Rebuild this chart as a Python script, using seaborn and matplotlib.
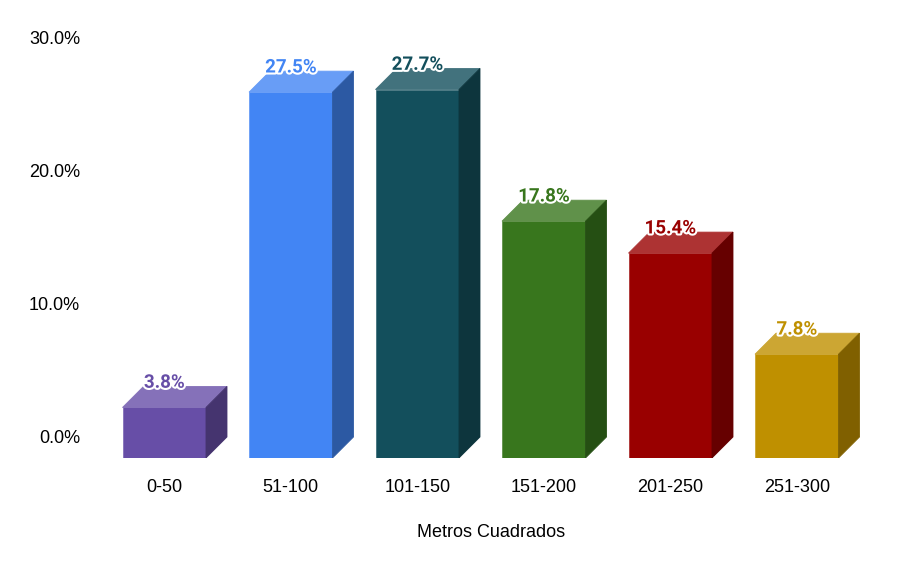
import matplotlib
matplotlib.use("Agg")
import matplotlib.pyplot as plt
import matplotlib.patheffects as pe
from matplotlib.patches import Polygon
import seaborn as sns

# data
categories = ["0-50", "51-100", "101-150", "151-200", "201-250", "251-300"]
values = [3.8, 27.5, 27.7, 17.8, 15.4, 7.8]
tick_values = [0, 10, 20, 30]
tick_labels = ["0.0%", "10.0%", "20.0%", "30.0%"]

front_colors = ["#674EA7", "#4285F4", "#134F5C", "#38761D", "#990000", "#BF9000"]
top_colors = ["#8571B9", "#689DF6", "#42727D", "#60914A", "#AD3333", "#CCA633"]
side_colors = ["#45346F", "#2C59A3", "#0D353D", "#254F13", "#660000", "#806000"]

sns.set_theme(style="white")
plt.rcParams["font.family"] = ["Liberation Sans", "DejaVu Sans"]

fig = plt.figure(figsize=(9.21, 5.69), dpi=100)
ax = fig.add_axes([101 / 921, 1 - 458 / 569, 759 / 921, 439 / 569])

sns.barplot(x=categories, y=values, hue=categories, palette=front_colors,
            legend=False, width=0.66, saturation=1, ax=ax)

# 3D depth in data units (about 21 px each way)
dx = 0.166
dy = 1.58

for i, p in enumerate(ax.patches[:len(values)]):
    x0 = p.get_x()
    w = p.get_width()
    h = p.get_height()
    x1 = x0 + w
    p.set_edgecolor(top_colors[i])
    p.set_linewidth(0.6)
    top = Polygon([(x0, h), (x1, h), (x1 + dx, h + dy), (x0 + dx, h + dy)],
                  closed=True, facecolor=top_colors[i], edgecolor=top_colors[i],
                  linewidth=0.6, zorder=p.get_zorder())
    side = Polygon([(x1, 0), (x1 + dx, dy), (x1 + dx, h + dy), (x1, h)],
                   closed=True, facecolor=side_colors[i], edgecolor=side_colors[i],
                   linewidth=0.6, zorder=p.get_zorder())
    ax.add_patch(top)
    ax.add_patch(side)
    ax.text(x0 + w / 2, h + dy - 0.1, f"{values[i]:.1f}%", ha="center", va="baseline",
            fontsize=13.5, fontweight="bold", family="Roboto", color=front_colors[i],
            zorder=5,
            path_effects=[pe.withStroke(linewidth=3, foreground="white")])

ax.set_xlim(-0.5, 5.5)
ax.set_ylim(0, 33)
ax.set_yticks([t + dy for t in tick_values])
ax.set_yticklabels(tick_labels)
ax.tick_params(axis="y", length=0, pad=15, labelsize=13, colors="#000000")
ax.tick_params(axis="x", length=0, pad=15, labelsize=13, colors="#000000")
ax.set_xlabel("Metros Cuadrados", fontsize=13, color="#000000")
ax.xaxis.set_label_coords(0.514, -0.15)
ax.set_ylabel("")
for s in ax.spines.values():
    s.set_visible(False)
ax.grid(False)

fig.savefig("out.png", dpi=100)
